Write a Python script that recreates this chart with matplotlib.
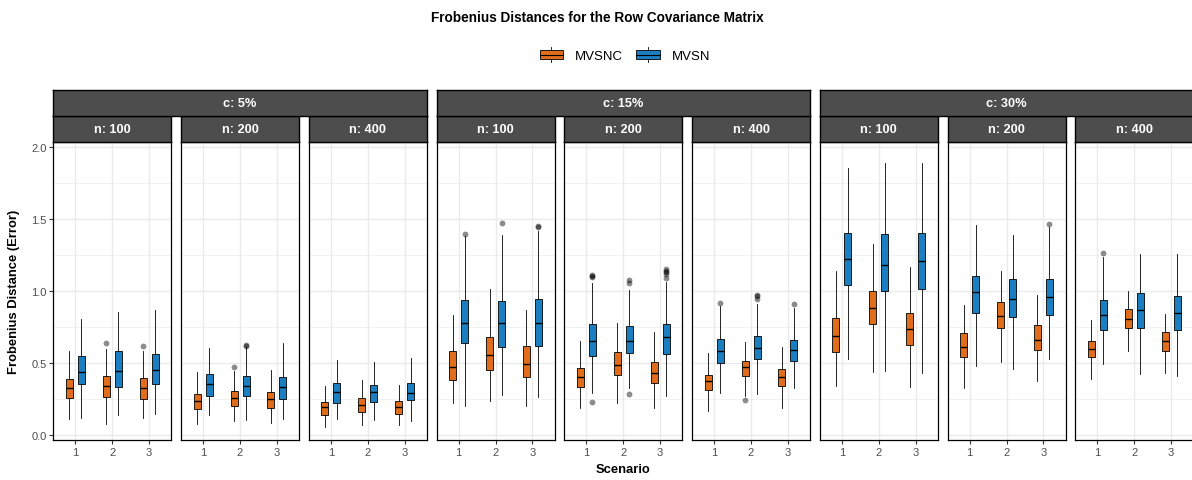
import numpy as np
import matplotlib
matplotlib.use('Agg')
import matplotlib.pyplot as plt
from matplotlib.patches import Rectangle, Patch
from matplotlib.lines import Line2D
from matplotlib.legend_handler import HandlerBase

plt.rcParams['font.family'] = ['Liberation Sans', 'DejaVu Sans']

# facets: c level x n level, 3 scenarios each
c_levels = ["c: 5%", "c: 15%", "c: 30%"]
n_levels = ["n: 100", "n: 200", "n: 400"]
scenarios = [1, 2, 3]
methods = ["MVSNC", "MVSN"]
colors = ["#DF6D1C", "#1B7EC0"]

# MVSNC box stats, 9 panels (c5/n100 ... c30/n400) x 3 scenarios
nc_lo = [[.109, .074, .116], [.074, .097, .083], [.056, .067, .067],
         [.220, .231, .201], [.185, .218, .185], [.167, .271, .185],
         [.340, .433, .329], [.324, .507, .375], [.384, .583, .428]]
nc_q1 = [[.252, .264, .248], [.178, .197, .185], [.139, .155, .144],
         [.380, .449, .403], [.333, .417, .356], [.310, .405, .336],
         [.574, .769, .623], [.537, .743, .586], [.537, .741, .583]]
nc_med = [[.324, .336, .324], [.236, .252, .245], [.190, .208, .194],
          [.468, .553, .491], [.398, .486, .426], [.370, .468, .403],
          [.685, .877, .734], [.611, .822, .657], [.593, .801, .648]]
nc_q3 = [[.390, .405, .391], [.285, .306, .294], [.225, .252, .236],
         [.579, .681, .618], [.461, .572, .502], [.417, .514, .454],
         [.810, .998, .845], [.704, .924, .764], [.653, .870, .711]]
nc_hi = [[.583, .595, .583], [.433, .440, .449], [.340, .380, .345],
         [.833, 1.012, .866], [.653, .778, .711], [.565, .646, .606],
         [1.139, 1.324, 1.167], [.900, 1.134, .972], [.796, .995, .838]]
nc_out = {(0, 1): [.634], (0, 2): [.618], (1, 1): [.472], (5, 1): [.241]}

# MVSN box stats
n_lo = [[.116, .139, .144], [.137, .104, .109], [.109, .102, .097],
        [.197, .278, .259], [.287, .324, .271], [.289, .282, .322],
        [.523, .440, .426], [.479, .456, .525], [.491, .421, .410]]
n_q1 = [[.352, .333, .352], [.271, .271, .245], [.218, .225, .241],
        [.639, .606, .618], [.549, .569, .560], [.495, .523, .509],
        [1.037, .995, 1.012], [.843, .815, .831], [.725, .741, .727]]
n_med = [[.433, .444, .451], [.350, .336, .333], [.294, .294, .289],
         [.775, .775, .775], [.653, .653, .676], [.579, .600, .590],
         [1.220, 1.181, 1.208], [.988, .940, .958], [.831, .868, .847]]
n_q3 = [[.548, .579, .560], [.419, .410, .403], [.356, .347, .359],
        [.938, .931, .942], [.769, .757, .769], [.664, .685, .660],
        [1.400, 1.391, 1.400], [1.100, 1.083, 1.079], [.935, .986, .961]]
n_hi = [[.800, .850, .866], [.600, .606, .639], [.519, .502, .532],
        [1.382, 1.389, 1.417], [1.053, 1.005, 1.058], [.896, .907, .877],
        [1.852, 1.884, 1.884], [1.456, 1.387, 1.444], [1.231, 1.255, 1.255]]
n_out = {(1, 1): [.623, .618], (3, 0): [1.396], (3, 1): [1.468], (3, 2): [1.45, 1.44],
         (4, 0): [1.11, 1.10, 1.097, .229], (4, 1): [1.074, 1.053, .282],
         (4, 2): [1.15, 1.139, 1.127, 1.116, 1.086],
         (5, 0): [.917], (5, 1): [.972, .965, .942], (5, 2): [.907],
         (7, 2): [1.461], (8, 0): [1.259]}

W, H = 1192, 481
fig = plt.figure(figsize=(W / 100, H / 100), dpi=100)


def fx(px):
    return px / W


def fy(py):
    return 1 - py / H


x0, step, pw = 53.3, 127.75, 118
p_top, p_bot = 143.3, 441
strip_h = 26
dark = '#4D4D4D'


def make_stats(lo, q1, med, q3, hi, out, p):
    return [dict(whislo=lo[p][s], q1=q1[p][s], med=med[p][s], q3=q3[p][s],
                 whishi=hi[p][s], fliers=out.get((p, s), [])) for s in range(3)]


series = [(nc_lo, nc_q1, nc_med, nc_q3, nc_hi, nc_out),
          (n_lo, n_q1, n_med, n_q3, n_hi, n_out)]
offsets = [-0.163, 0.163]

for p in range(9):
    left = x0 + step * p
    ax = fig.add_axes([fx(left), fy(p_bot), pw / W, (p_bot - p_top) / H])
    for k in range(2):
        st = make_stats(*series[k], p)
        ax.bxp(st, positions=[s + offsets[k] for s in scenarios], widths=0.19,
               patch_artist=True, showcaps=False, manage_ticks=False,
               boxprops=dict(facecolor=colors[k], edgecolor='black', linewidth=0.6),
               medianprops=dict(color='black', linewidth=1.0),
               whiskerprops=dict(color='black', linewidth=0.6),
               flierprops=dict(marker='o', markerfacecolor='black', markeredgecolor='none',
                               alpha=0.45, markersize=4.2))
    ax.set_xlim(0.4, 3.6)
    ax.set_ylim(-0.037, 2.03)
    ax.set_xticks(scenarios)
    ax.set_xticklabels([str(s) for s in scenarios])
    ax.set_yticks([0, 0.5, 1.0, 1.5, 2.0])
    ax.set_yticklabels(['0.0', '0.5', '1.0', '1.5', '2.0'])
    ax.set_yticks([0.25, 0.75, 1.25, 1.75], minor=True)
    ax.grid(True, which='major', color='#EBEBEB', linewidth=1.0)
    ax.grid(True, which='minor', axis='y', color='#EBEBEB', linewidth=0.5)
    ax.set_axisbelow(True)
    ax.tick_params(which='minor', left=False)
    ax.tick_params(axis='both', which='major', length=2.8, width=0.8, color='#333333',
                   labelcolor='#4D4D4D', labelsize=8, pad=2)
    if p > 0:
        ax.tick_params(axis='y', left=False, labelleft=False)
    for sp in ax.spines.values():
        sp.set_color('black')
        sp.set_linewidth(0.9)

    # n strip
    sa = fig.add_axes([fx(left), fy(p_top), pw / W, strip_h / H])
    sa.set_facecolor(dark)
    sa.set_xticks([])
    sa.set_yticks([])
    for sp in sa.spines.values():
        sp.set_linewidth(1.0)
    sa.text(0.5, 0.5, n_levels[p % 3], color='white', fontweight='bold', fontsize=9.2,
            ha='center', va='center', transform=sa.transAxes)

# c strips
for g in range(3):
    left = x0 + step * 3 * g
    ca = fig.add_axes([fx(left), fy(p_top - strip_h), (2 * step + pw) / W, strip_h / H])
    ca.set_facecolor(dark)
    ca.set_xticks([])
    ca.set_yticks([])
    for sp in ca.spines.values():
        sp.set_linewidth(1.0)
    ca.text(0.5, 0.5, c_levels[g], color='white', fontweight='bold', fontsize=9.2,
            ha='center', va='center', transform=ca.transAxes)

fig.text(fx(597), fy(18), "Frobenius Distances for the Row Covariance Matrix",
         fontweight='bold', fontsize=9.8, ha='center', va='center')
fig.text(fx(14), fy((p_top + p_bot) / 2), "Frobenius Distance (Error)", rotation=90,
         fontweight='bold', fontsize=9.4, ha='center', va='center')
fig.text(fx(623), fy(470), "Scenario", fontweight='bold', fontsize=9.4,
         ha='center', va='center')


class BoxKey(HandlerBase):
    def create_artists(self, legend, orig, xd, yd, w, h, fs, trans):
        x, y = -xd, -yd
        wh = Line2D([x + w / 2] * 2, [y - h * 0.25, y + h * 1.25], color='black',
                    lw=0.6, transform=trans)
        box = Rectangle((x, y), w, h, facecolor=orig.get_facecolor(), edgecolor='black',
                        lw=0.6, transform=trans)
        med = Line2D([x, x + w], [y + h / 2] * 2, color='black', lw=0.8, transform=trans)
        return [wh, box, med]


handles = [Patch(facecolor=c) for c in colors]
fig.legend(handles, methods, handler_map={Patch: BoxKey()}, loc='center',
           bbox_to_anchor=(fx(625), fy(57)), ncol=2, frameon=False, fontsize=9.5,
           handlelength=1.8, handleheight=0.75, handletextpad=0.9, columnspacing=1.0)

fig.savefig('out.png', dpi=100)
